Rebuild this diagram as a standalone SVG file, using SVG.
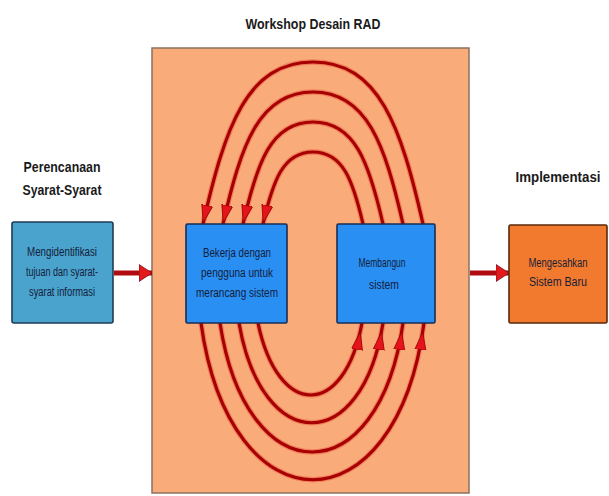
<svg xmlns="http://www.w3.org/2000/svg" width="609" height="496" viewBox="0 0 609 496">
  <style>
    .lbl { font-family: "Liberation Sans Narrow", "Liberation Sans", Arial, sans-serif; font-weight: bold; fill: #1a1a1a; text-anchor: middle; }
    .head { font-size: 14.5px; }
    .body { font-size: 12px; font-weight: normal; fill: #14203a; }
    .box { stroke-width: 1.6; }
    .loop-halo { fill: none; stroke: #e03424; stroke-width: 5.5; stroke-opacity: 0.35; }
    .loop { fill: none; stroke: #a80000; stroke-width: 3.2; }
    .flow { fill: none; stroke: #b00c10; stroke-width: 5; }
  </style>
  <defs>
    <!-- arrowhead with its tip right at the end of the line -->
    <marker id="headTop" markerUnits="userSpaceOnUse" markerWidth="30" markerHeight="20" viewBox="0 -10 30 20" refX="19" refY="0" orient="auto">
      <path d="M0,-5.5 L18,0 L0,5.5 Z" fill="#e4141a" stroke="#9a0000" stroke-width="0.8"/>
    </marker>
    <!-- arrowhead set back a little, so the line runs on past the tip -->
    <marker id="headBot" markerUnits="userSpaceOnUse" markerWidth="34" markerHeight="20" viewBox="0 -10 34 20" refX="27" refY="0" orient="auto">
      <path d="M0,-5.5 L18,0 L0,5.5 Z" fill="#e4141a" stroke="#9a0000" stroke-width="0.8"/>
    </marker>
    <marker id="headFlow" markerUnits="userSpaceOnUse" markerWidth="20" markerHeight="24" viewBox="0 -12 20 24" refX="13" refY="0" orient="auto">
      <path d="M0,-8.5 L13,0 L0,8.5 Z" fill="#e41a1a" stroke="#7a1020" stroke-width="0.8"/>
    </marker>
  </defs>

  <rect width="609" height="496" fill="#ffffff"/>

  <!-- workshop area -->
  <g id="workshop">
    <rect x="152" y="48" width="317" height="445" fill="#f9ab7a" stroke="#8a7263" stroke-width="1.5"/>
    <text class="lbl head" x="313" y="29" textLength="135" lengthAdjust="spacingAndGlyphs">Workshop Desain RAD</text>
  </g>

  <!-- loops between the two workshop activities -->
  <g id="connectors">
    <g id="loops-top">
      <path class="loop-halo" d="M423,224 C401,126.8 379,62 313,62 C247,62 225,126.8 203,224"/>
      <path class="loop-halo" d="M403,224 C385,144.8 367,92 313,92 C259,92 241,144.8 223,224"/>
      <path class="loop-halo" d="M383,224 C369,162.8 355,122 313,122 C271,122 257,162.8 243,224"/>
      <path class="loop-halo" d="M363,224 C353,180.8 343,152 313,152 C283,152 273,180.8 263,224"/>
      <path class="loop" d="M423,224 C401,126.8 379,62 313,62 C247,62 225,126.8 203,224" marker-end="url(#headTop)"/>
      <path class="loop" d="M403,224 C385,144.8 367,92 313,92 C259,92 241,144.8 223,224" marker-end="url(#headTop)"/>
      <path class="loop" d="M383,224 C369,162.8 355,122 313,122 C271,122 257,162.8 243,224" marker-end="url(#headTop)"/>
      <path class="loop" d="M363,224 C353,180.8 343,152 313,152 C283,152 273,180.8 263,224" marker-end="url(#headTop)"/>
    </g>
    <g id="loops-bottom">
      <path class="loop-halo" d="M201,323 C230,532 396,532 424,323"/>
      <path class="loop-halo" d="M220,323 C246,495 379,495 403,323"/>
      <path class="loop-halo" d="M239,323 C262,456 362,456 383,323"/>
      <path class="loop-halo" d="M258,323 C278,419 344,419 362,323"/>
      <path class="loop" d="M201,323 C230,532 396,532 424,323" marker-end="url(#headBot)"/>
      <path class="loop" d="M220,323 C246,495 379,495 403,323" marker-end="url(#headBot)"/>
      <path class="loop" d="M239,323 C262,456 362,456 383,323" marker-end="url(#headBot)"/>
      <path class="loop" d="M258,323 C278,419 344,419 362,323" marker-end="url(#headBot)"/>
    </g>
    <path class="flow" d="M114,273 L152,273" marker-end="url(#headFlow)"/>
    <path class="flow" d="M470,273 L509,273" marker-end="url(#headFlow)"/>
  </g>

  <!-- requirements planning -->
  <g id="perencanaan">
    <text class="lbl head" x="62" y="172" textLength="77" lengthAdjust="spacingAndGlyphs">Perencanaan</text>
    <text class="lbl head" x="62" y="195" textLength="79" lengthAdjust="spacingAndGlyphs">Syarat-Syarat</text>
    <rect class="box" x="12" y="222" width="101" height="101" rx="2" fill="#4aa3cd" stroke="#1f3b55"/>
    <text class="lbl body" x="62" y="256" textLength="70" lengthAdjust="spacingAndGlyphs">Mengidentifikasi</text>
    <text class="lbl body" x="62" y="276" textLength="72" lengthAdjust="spacingAndGlyphs">tujuan dan syarat-</text>
    <text class="lbl body" x="62" y="296" textLength="66" lengthAdjust="spacingAndGlyphs">syarat informasi</text>
  </g>

  <!-- working with users -->
  <g id="bekerja">
    <rect class="box" x="186" y="224" width="101" height="99" rx="1.5" fill="#2a8ff2" stroke="#1a2c55"/>
    <text class="lbl body" x="237" y="257" textLength="68" lengthAdjust="spacingAndGlyphs">Bekerja dengan</text>
    <text class="lbl body" x="237" y="277" textLength="72" lengthAdjust="spacingAndGlyphs">pengguna untuk</text>
    <text class="lbl body" x="237" y="297" textLength="82" lengthAdjust="spacingAndGlyphs">merancang sistem</text>
  </g>

  <!-- building the system -->
  <g id="membangun">
    <rect class="box" x="337" y="224" width="98" height="99" rx="1.5" fill="#2a8ff2" stroke="#1a2c55"/>
    <text class="lbl body" x="382" y="267" textLength="47" lengthAdjust="spacingAndGlyphs">Membangun</text>
    <text class="lbl body" x="384" y="289" textLength="30" lengthAdjust="spacingAndGlyphs">sistem</text>
  </g>

  <!-- implementation -->
  <g id="implementasi">
    <text class="lbl head" x="558" y="182" textLength="85" lengthAdjust="spacingAndGlyphs">Implementasi</text>
    <rect class="box" x="509" y="225" width="98" height="98" rx="1.5" fill="#f27a2e" stroke="#5a2a0c"/>
    <text class="lbl body" x="558" y="267" textLength="59" lengthAdjust="spacingAndGlyphs" fill="#2a1208">Mengesahkan</text>
    <text class="lbl body" x="558" y="286" textLength="58" lengthAdjust="spacingAndGlyphs" fill="#2a1208">Sistem Baru</text>
  </g>
</svg>
